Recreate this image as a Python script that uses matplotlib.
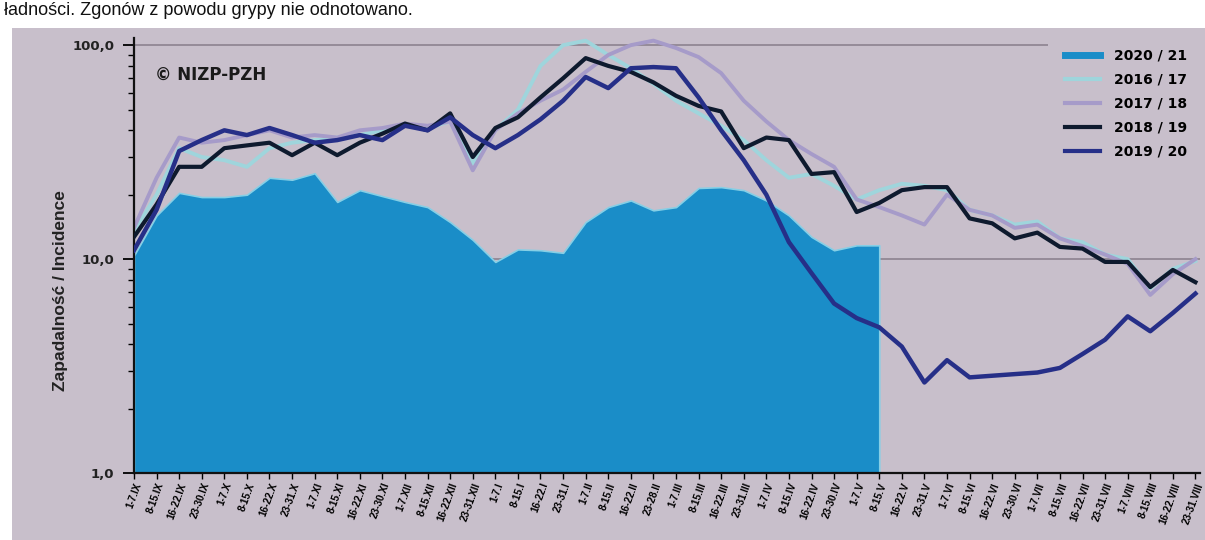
import numpy as np
import matplotlib
matplotlib.use("Agg")
import matplotlib.pyplot as plt
from matplotlib.lines import Line2D
from matplotlib.patches import Rectangle

# weekly periods of the season (IX - VIII)
weeks = ['1-7.IX', '8-15.IX', '16-22.IX', '23-30.IX',
         '1-7.X', '8-15.X', '16-22.X', '23-31.X',
         '1-7.XI', '8-15.XI', '16-22.XI', '23-30.XI',
         '1-7.XII', '8-15.XII', '16-22.XII', '23-31.XII',
         '1-7.I', '8-15.I', '16-22.I', '23-31.I',
         '1-7.II', '8-15.II', '16-22.II', '23-28.II',
         '1-7.III', '8-15.III', '16-22.III', '23-31.III',
         '1-7.IV', '8-15.IV', '16-22.IV', '23-30.IV',
         '1-7.V', '8-15.V', '16-22.V', '23-31.V',
         '1-7.VI', '8-15.VI', '16-22.VI', '23-30.VI',
         '1-7.VII', '8-15.VII', '16-22.VII', '23-31.VII',
         '1-7.VIII', '8-15.VIII', '16-22.VIII', '23-31.VIII']

# incidence per 100 000
s2020 = [10.4, 16, 20.4, 19.5, 19.5, 20, 24, 23.5, 25.2, 18.5, 21, 19.7,
         18.5, 17.5, 14.9, 12.3, 9.7, 11.1, 11, 10.7, 14.9, 17.5, 18.8, 16.9,
         17.5, 21.5, 21.7, 21, 18.8, 16, 12.7, 11, 11.6, 11.6]

s2016 = [13.5, 20, 33, 30, 29, 27, 33, 35, 36, 37, 38, 40,
         42, 41, 44, 28, 40, 50, 80, 100, 105, 90, 78, 66,
         55, 48, 42, 36, 29, 24, 25, 22, 19, 21, 22.5, 22,
         21, 17, 16, 14.5, 15, 12.5, 12, 10.5, 10, 7.3, 9, 9.8]

s2017 = [14, 24, 37, 35, 36, 38, 40, 37, 38, 37, 40, 41,
         43, 42, 44, 26, 40, 48, 55, 62, 75, 90, 100, 105,
         97, 88, 74, 55, 44, 36, 31, 27, 19, 17.5, 16, 14.5,
         20, 17, 16, 14, 14.5, 12.5, 11.5, 10.5, 9.5, 6.8, 8.5, 10]

s2018 = [12.7, 18, 27, 27, 33, 34, 35, 30.6, 35, 30.6, 35, 38.6,
         43, 40, 48, 30, 41, 46, 57, 70, 87, 80, 75, 67,
         58, 52, 49, 33, 37, 36, 25, 25.5, 16.6, 18.3, 21, 21.7,
         21.7, 15.5, 14.7, 12.5, 13.3, 11.4, 11.2, 9.7, 9.7, 7.4, 8.9, 7.8]

s2019 = [11, 17, 32, 36, 40, 38, 41, 38, 35, 36, 38, 36,
         42, 40, 46, 38, 33, 38, 45, 55, 71, 63, 78, 79,
         78, 57, 40, 29, 20, 12, 8.6, 6.2, 5.3, 4.8, 3.9, 2.65,
         3.37, 2.8, 2.85, 2.9, 2.95, 3.1, 3.6, 4.2, 5.4, 4.6, 5.6, 6.9]

bg = '#c8bfcb'
narrow = ['Liberation Sans Narrow', 'Liberation Sans', 'DejaVu Sans']

fig = plt.figure(figsize=(12.05, 5.4), dpi=100)
fig.patch.set_facecolor('white')
fig.patches.append(Rectangle((0.01, 0), 0.99, 0.948, transform=fig.transFigure,
                             facecolor=bg, edgecolor='none', zorder=-5))

fig.text(0.003, 0.972, 'ładności. Zgonów z powodu grypy nie odnotowano.',
         fontsize=13, family='Liberation Sans', color='#111111', va='baseline')

ax = fig.add_axes([0.1112, 0.124, 0.8846, 0.8056])
ax.set_facecolor('none')
ax.set_yscale('log')
ax.set_ylim(1, 108)
ax.set_xlim(0, 47.2)

x = np.arange(len(weeks))
x20 = np.arange(len(s2020))

for v in (10, 100):
    ax.axhline(v, color='#8d8290', lw=1.2, zorder=0.5)

ax.fill_between(x20, 1, s2020, color='#1a8dc8', edgecolor='#86cfe6', lw=1.2, zorder=1)
ax.plot(x, s2016, color='#9fd5dc', lw=2.8, zorder=2)
ax.plot(x, s2017, color='#a69bc9', lw=2.8, zorder=2)
ax.plot(x, s2018, color='#0e1a2e', lw=3.0, zorder=3)
ax.plot(x, s2019, color='#262f88', lw=3.2, zorder=4)

ax.set_xticks(x)
ax.set_xticklabels(weeks, rotation=70, ha='right', rotation_mode='anchor',
                   fontsize=7.2, fontweight='bold', family='Liberation Sans')
ax.set_yticks([1, 10, 100])
ax.set_yticklabels(['1,0', '10,0', '100,0'], fontsize=9.5, fontweight='bold',
                   family='DejaVu Sans', color='#222222')
ax.yaxis.set_minor_formatter(matplotlib.ticker.NullFormatter())
ax.tick_params(axis='y', which='major', length=8, width=1.3, pad=6)
ax.tick_params(axis='y', which='minor', length=4, width=1.0)
ax.tick_params(axis='x', length=4, width=1.0, pad=2)

for s in ('top', 'right'):
    ax.spines[s].set_visible(False)
for s in ('left', 'bottom'):
    ax.spines[s].set_linewidth(1.6)
    ax.spines[s].set_color('#111111')

ax.set_ylabel('Zapadalność / Incidence', fontsize=12.5, fontweight='bold',
              family=narrow, color='#222222')
ax.yaxis.set_label_coords(-0.062, 0.42)

ax.text(0.02, 0.905, '© NIZP-PZH', transform=ax.transAxes, fontsize=12,
        fontweight='bold', family='DejaVu Sans', color='#1a1a1a')

handles = [Line2D([], [], color='#1a8dc8', lw=5),
           Line2D([], [], color='#9fd5dc', lw=3),
           Line2D([], [], color='#a69bc9', lw=3),
           Line2D([], [], color='#0e1a2e', lw=3),
           Line2D([], [], color='#262f88', lw=3)]
names = ['2020 / 21', '2016 / 17', '2017 / 18', '2018 / 19', '2019 / 20']
leg = ax.legend(handles, names, loc='upper right', bbox_to_anchor=(1.004, 1.015),
                frameon=True, facecolor=bg, edgecolor='none', framealpha=1,
                handlelength=2.5, handletextpad=1.0, labelspacing=0.72,
                borderpad=1.25, borderaxespad=0.0,
                prop={'family': 'DejaVu Sans', 'weight': 'bold', 'size': 10})
leg.set_zorder(5)

fig.savefig('out.png', dpi=100, facecolor=fig.get_facecolor())
